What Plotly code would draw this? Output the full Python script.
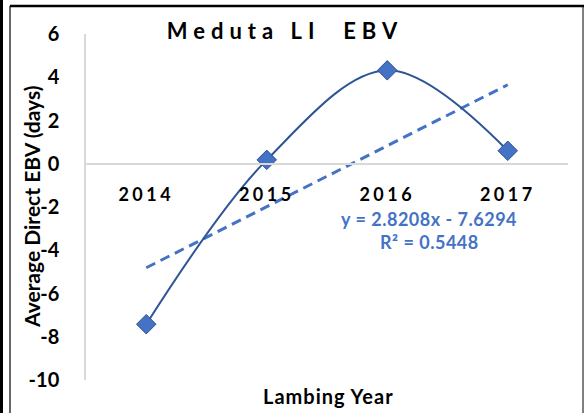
import plotly.graph_objects as go

# ---- data ----
years = ["2014", "2015", "2016", "2017"]
ebv = [-7.42, 0.18, 4.32, 0.60]
trend_slope = 2.8208
trend_intercept = -7.6294
trend_r2 = 0.5448
y_ticks = [-10, -8, -6, -4, -2, 0, 2, 4, 6]

trend_y = [trend_slope * (i + 1) + trend_intercept for i in range(len(years))]

W, H = 585, 413
L, R, T, B = 86, 17, 34, 33
PW, PH = W - L - R, H - T - B

def px(x):
    return (x - L) / PW

def py(y):
    return (H - B - y) / PH

FONT = "Lato"
BLUE = "#4472C4"
DARK = "#2F5597"

fig = go.Figure()
fig.add_trace(go.Scatter(
    x=years, y=trend_y, mode="lines",
    line=dict(color=BLUE, width=3, dash="10px,6px"),
    hoverinfo="skip", showlegend=False))
fig.add_trace(go.Scatter(
    x=years, y=ebv, mode="lines+markers",
    line=dict(color=DARK, width=2, shape="spline", smoothing=1.0),
    marker=dict(symbol="diamond", size=15, color=BLUE,
                line=dict(color="#2F528F", width=1)),
    showlegend=False))

def spaced(t, s):
    return '<span style="letter-spacing:%spx">%s</span>' % (s, t)

fig.update_layout(
    width=W, height=H,
    margin=dict(l=L, r=R, t=T, b=B, autoexpand=False),
    paper_bgcolor="white", plot_bgcolor="white",
    font=dict(family=FONT, color="black"),
    title=dict(text="<b>" + spaced("Meduta LI\u00a0\u00a0EBV", 6) + "</b>",
               x=285 / W, xanchor="center", y=1 - 31 / H, yanchor="middle",
               font=dict(size=22, family=FONT, color="black")),
    xaxis=dict(type="category", anchor="free", position=10 / 16,
               automargin=False, range=[-0.5, 3.5],
               showline=True, linecolor="#D9D9D9", linewidth=1.5,
               showgrid=False, zeroline=False,
               ticks="outside", ticklen=15, tickcolor="rgba(0,0,0,0)",
               tickvals=years,
               ticktext=["<b>" + spaced(y, 3.5) + "</b>" for y in years],
               tickfont=dict(size=18, family=FONT, color="black"),
               fixedrange=True),
    yaxis=dict(range=[-10, 6], tickvals=y_ticks, automargin=False,
               ticktext=["<b>%d</b>" % v for v in y_ticks],
               showline=True, linecolor="#D9D9D9", linewidth=1.5,
               showgrid=False, zeroline=False,
               ticks="outside", ticklen=21, tickcolor="rgba(0,0,0,0)",
               tickfont=dict(size=20, family=FONT, color="black"),
               fixedrange=True),
)

def note(text, x, y, size, color="black", angle=0):
    fig.add_annotation(text=text, textangle=angle,
                       xref="paper", yref="paper", x=px(x), y=py(y),
                       xanchor="center", yanchor="middle",
                       showarrow=False,
                       font=dict(size=size, family=FONT, color=color))

note("<b>Average Direct EBV (days)</b>", 31, 207, 21, angle=-90)
note("<b>" + spaced("Lambing Year", 1) + "</b>", 328, 396, 20)
note("<b>" + spaced("y = %.4fx - %.4f" % (trend_slope, -trend_intercept), 0.5) + "</b>",
     429, 219, 18, BLUE)
note("<b>" + spaced("R² = %.4f" % trend_r2, 0.5) + "</b>", 429, 242, 18, BLUE)

# chart border
fig.add_shape(type="line", xref="paper", yref="paper",
              x0=px(10), x1=px(10), y0=py(6), y1=py(420),
              line=dict(color="black", width=1.2))
fig.add_shape(type="line", xref="paper", yref="paper",
              x0=px(583), x1=px(583), y0=py(6), y1=py(420),
              line=dict(color="black", width=1))
fig.add_shape(type="line", xref="paper", yref="paper",
              x0=px(10), x1=px(584), y0=py(6), y1=py(6),
              line=dict(color="black", width=2.5))
fig.add_shape(type="line", xref="paper", yref="paper",
              x0=px(1.5), x1=px(1.5), y0=py(0), y1=py(413),
              line=dict(color="black", width=3))

fig.write_html("out.html", config={"displayModeBar": False},
               post_script="document.body.style.margin='0px';")
